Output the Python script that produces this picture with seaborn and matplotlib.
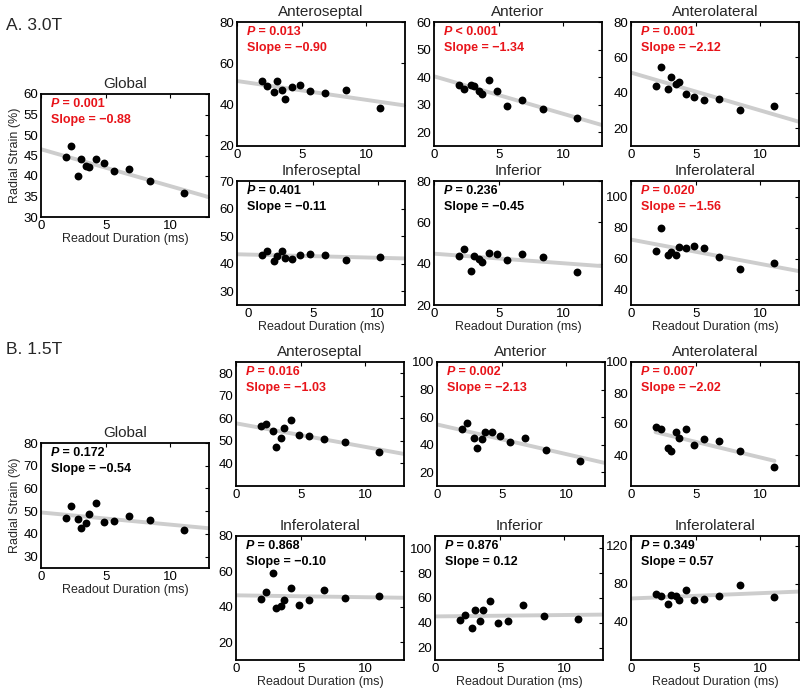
import matplotlib
matplotlib.use("Agg")
import matplotlib.pyplot as plt
import seaborn as sns
import pandas as pd

# readout duration (ms) of each acquisition
readout_ms = [1.9, 2.3, 2.85, 3.1, 3.5, 3.7, 4.25, 4.9, 5.65, 6.8, 8.45, 11.1]
# the 3.0T inferoseptal panel is drawn with shifted x values
readout_ms_infsep = [1.0, 1.4, 1.95, 2.2, 2.6, 2.8, 3.35, 4.0, 4.75, 5.9, 7.55, 10.2]

# radial strain (%) at 3.0T
strain_3t_global = [44.7, 47.2, 39.9, 44.1, 42.5, 42.3, 44.1, 43.2, 41.3, 41.8, 38.7, 35.9]
strain_3t_anteroseptal = [51.3, 48.9, 46.0, 51.5, 47.3, 42.9, 48.4, 49.5, 46.8, 45.8, 47.3, 38.4]
strain_3t_anterior = [37.1, 35.6, 37.1, 36.8, 34.8, 34.0, 39.0, 34.9, 29.4, 31.7, 28.3, 25.2]
strain_3t_anterolateral = [44.0, 54.7, 42.1, 48.7, 45.1, 46.0, 39.4, 37.5, 35.8, 36.4, 30.4, 32.3]
strain_3t_inferoseptal = [43.2, 44.7, 41.1, 42.9, 44.7, 41.9, 41.8, 43.2, 43.5, 43.2, 41.5, 42.4]
strain_3t_inferior = [43.9, 47.2, 36.5, 43.5, 42.3, 41.0, 45.4, 44.7, 42.0, 44.9, 43.4, 36.1]
strain_3t_inferolateral = [65.1, 79.9, 62.5, 64.4, 62.0, 67.7, 66.8, 67.9, 67.0, 60.8, 53.5, 57.2]

# radial strain (%) at 1.5T
strain_15t_global = [46.9, 52.1, 46.7, 42.7, 45.0, 48.6, 53.5, 45.4, 45.7, 47.7, 46.0, 41.7]
strain_15t_anteroseptal = [56.6, 57.6, 54.5, 47.3, 51.2, 55.7, 59.1, 52.8, 52.1, 51.0, 49.4, 45.2]
strain_15t_anterior = [51.7, 55.4, 45.1, 37.6, 44.1, 49.0, 49.5, 46.1, 42.2, 44.9, 36.1, 28.5]
strain_15t_anterolateral = [58.0, 56.7, 44.3, 42.4, 55.0, 51.2, 56.5, 46.3, 50.5, 49.0, 42.6, 32.5]
strain_15t_inferolateral_a = [44.4, 48.4, 59.0, 39.1, 40.7, 44.0, 50.8, 41.3, 44.0, 49.5, 44.8, 45.9]
strain_15t_inferior = [42.0, 46.3, 35.9, 50.6, 41.2, 50.4, 57.6, 39.6, 41.8, 54.7, 45.5, 42.8]
strain_15t_inferolateral_b = [69.6, 66.8, 59.1, 68.5, 66.8, 62.6, 73.0, 63.0, 64.3, 67.5, 79.0, 66.4]

RED = "#e8141a"
LINE_GRAY = "#cdcdcd"
W, H = 800, 691

sns.set_theme(style="white")
plt.rcParams["font.family"] = ["Liberation Sans", "DejaVu Sans"]
plt.rcParams["axes.edgecolor"] = "black"
plt.rcParams["axes.linewidth"] = 1.3


def rect(left, top, h=124, w=168):
    # pixel box -> figure fraction
    return [left / W, 1 - (top + h) / H, w / W, h / H]


panels = [
    # 3.0T
    dict(title="Global", x=readout_ms, y=strain_3t_global, p="= 0.001", slope="Slope = \u22120.88",
         sig=True, box=rect(41, 94, 123), ylim=(30, 60), yticks=range(30, 61, 5), xlab=True, ylab=True),
    dict(title="Anteroseptal", x=readout_ms, y=strain_3t_anteroseptal, p="= 0.013", slope="Slope = \u22120.90",
         sig=True, box=rect(237, 22), ylim=(20, 80), yticks=range(20, 81, 20)),
    dict(title="Anterior", x=readout_ms, y=strain_3t_anterior, p="< 0.001", slope="Slope = \u22121.34",
         sig=True, box=rect(434, 22), ylim=(15, 60), yticks=range(20, 61, 10)),
    dict(title="Anterolateral", x=readout_ms, y=strain_3t_anterolateral, p="= 0.001", slope="Slope = \u22122.12",
         sig=True, box=rect(631, 22), ylim=(10, 80), yticks=range(20, 81, 20)),
    dict(title="Inferoseptal", x=readout_ms_infsep, y=strain_3t_inferoseptal, p="= 0.401", slope="Slope = \u22120.11",
         sig=False, box=rect(237, 181), ylim=(25, 70), yticks=range(30, 71, 10), xlim=(-0.9, 12.1), xlab=True),
    dict(title="Inferior", x=readout_ms, y=strain_3t_inferior, p="= 0.236", slope="Slope = \u22120.45",
         sig=False, box=rect(434, 181), ylim=(20, 80), yticks=range(20, 81, 20), xlab=True),
    dict(title="Inferolateral", x=readout_ms, y=strain_3t_inferolateral, p="= 0.020", slope="Slope = \u22121.56",
         sig=True, box=rect(631, 181), ylim=(30, 110), yticks=range(40, 101, 20), xlab=True),
    # 1.5T
    dict(title="Global", x=readout_ms, y=strain_15t_global, p="= 0.172", slope="Slope = \u22120.54",
         sig=False, box=rect(41, 443, 125), ylim=(25, 80), yticks=range(30, 81, 10), xlab=True, ylab=True),
    dict(title="Anteroseptal", x=readout_ms, y=strain_15t_anteroseptal, p="= 0.016", slope="Slope = \u22121.03",
         sig=True, box=rect(236, 362), ylim=(30, 85), yticks=range(40, 81, 10)),
    dict(title="Anterior", x=readout_ms, y=strain_15t_anterior, p="= 0.002", slope="Slope = \u22122.13",
         sig=True, box=rect(437, 362), ylim=(10, 100), yticks=range(20, 101, 20)),
    dict(title="Anterolateral", x=readout_ms, y=strain_15t_anterolateral, p="= 0.007", slope="Slope = \u22122.02",
         sig=True, box=rect(631, 362), ylim=(20, 100), yticks=range(40, 101, 20), truncate=True),
    dict(title="Inferolateral", x=readout_ms, y=strain_15t_inferolateral_a, p="= 0.868", slope="Slope = \u22120.10",
         sig=False, box=rect(236, 536), ylim=(10, 80), yticks=range(20, 81, 20), xlab=True),
    dict(title="Inferior", x=readout_ms, y=strain_15t_inferior, p="= 0.876", slope="Slope = 0.12",
         sig=False, box=rect(435, 536), ylim=(10, 110), yticks=range(20, 101, 20), xlab=True),
    dict(title="Inferolateral", x=readout_ms, y=strain_15t_inferolateral_b, p="= 0.349", slope="Slope = 0.57",
         sig=False, box=rect(631, 536), ylim=(0, 130), yticks=range(40, 121, 40), xlab=True),
]

fig = plt.figure(figsize=(W / 100, H / 100), dpi=100)

for pn in panels:
    ax = fig.add_axes(pn["box"])
    ax.set_xlim(*pn.get("xlim", (0, 13)))
    ax.set_ylim(*pn["ylim"])
    df = pd.DataFrame({"readout": pn["x"], "strain": pn["y"]})
    sns.regplot(data=df, x="readout", y="strain", ax=ax, ci=None,
                truncate=pn.get("truncate", False), color="black",
                scatter_kws=dict(s=32, linewidths=0, alpha=1, zorder=3),
                line_kws=dict(color=LINE_GRAY, lw=2.8, zorder=2))
    ax.set_xlim(*pn.get("xlim", (0, 13)))
    ax.set_ylim(*pn["ylim"])
    ax.set_xticks([0, 5, 10])
    ax.set_yticks(list(pn["yticks"]))
    ax.tick_params(direction="in", length=3, width=0.8, top=True, right=True,
                   labelsize=9.5, pad=2, colors="black")
    for sp in ax.spines.values():
        sp.set_visible(True)
        sp.set_color("black")
    ax.set_title(pn["title"], fontsize=11, pad=4)
    ax.set_xlabel("Readout Duration (ms)" if pn.get("xlab") else "", fontsize=9, labelpad=1)
    ax.set_ylabel("Radial Strain (%)" if pn.get("ylab") else "", fontsize=9, labelpad=2)

    c = RED if pn["sig"] else "black"
    t1 = ax.text(0.06, 0.92, "P", transform=ax.transAxes, fontsize=9,
                 fontstyle="italic", fontweight="bold", color=c, va="center")
    ax.annotate(" " + pn["p"], xy=(1, 0), xycoords=t1, va="bottom", ha="left",
                fontsize=9, fontweight="bold", color=c)
    ax.text(0.06, 0.79, pn["slope"], transform=ax.transAxes, fontsize=9,
            fontweight="bold", color=c, va="center")

fig.text(6 / W, 1 - 25 / H, "A. 3.0T", fontsize=12.5, va="center")
fig.text(6 / W, 1 - 349 / H, "B. 1.5T", fontsize=12.5, va="center")

fig.savefig("out.png", dpi=100)
